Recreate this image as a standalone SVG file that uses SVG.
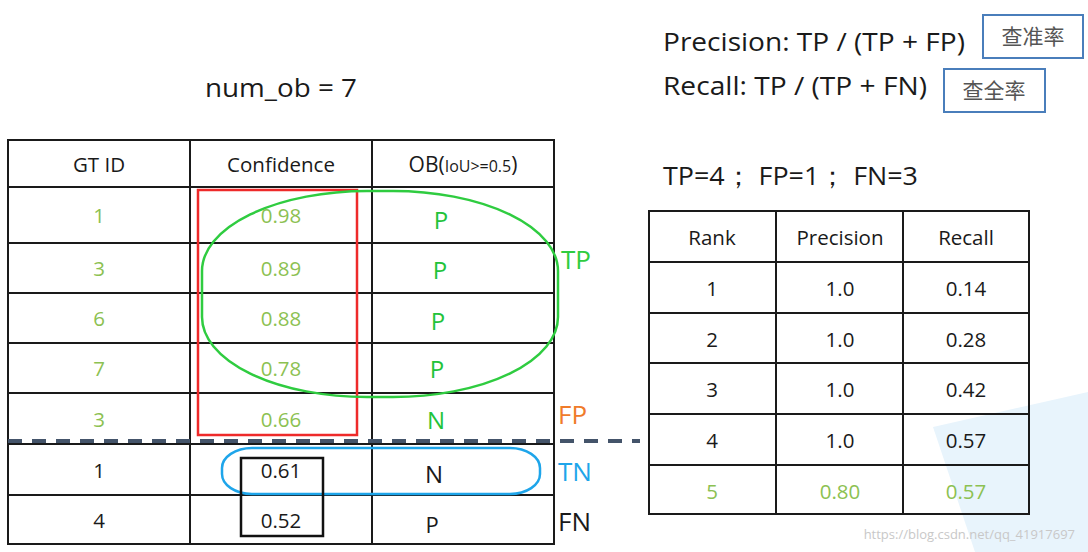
<svg xmlns="http://www.w3.org/2000/svg" width="1088" height="552" viewBox="0 0 1088 552">
<style>
text{font-family:"Open Sans","Liberation Sans",sans-serif;fill:#1a1a1a}
.grid{fill:none;stroke:#1a1a1a;stroke-width:2}
.c{text-anchor:middle;font-size:20.5px}
.g{fill:#8cc152}
.p{fill:#22c33a;font-size:24px;text-anchor:middle}
.big{font-size:26px}
.cj{font-family:"Noto Sans CJK SC",sans-serif;font-size:21px;fill:#555;text-anchor:middle}
.box{fill:#fff;stroke:#4a7ebb;stroke-width:2}
</style>
<rect width="1088" height="552" fill="#fff"/>
<polygon points="933,427 1088,392 1088,552 975,552" fill="#e8f4fc"/>
<text x="205" y="97" class="big" textLength="152" lengthAdjust="spacingAndGlyphs">num_ob = 7</text>
<text x="663" y="51" class="big" textLength="302" lengthAdjust="spacingAndGlyphs">Precision: TP / (TP + FP)</text>
<text x="663" y="95" class="big" textLength="264" lengthAdjust="spacingAndGlyphs">Recall: TP / (TP + FN)</text>
<text x="663" y="185" class="big" textLength="255" lengthAdjust="spacingAndGlyphs">TP=4； FP=1； FN=3</text>
<g id="box-precision"><rect x="983" y="15" width="100" height="43" class="box"/><text x="1033" y="44" class="cj">查准率</text></g>
<g id="box-recall"><rect x="944" y="69" width="101" height="43" class="box"/><text x="994" y="98" class="cj">查全率</text></g>
<g id="left-table">
<rect x="8" y="140" width="546" height="404" class="grid"/>
<path class="grid" d="M190 140V544M372 140V544M8 187H554M8 243H554M8 293H554M8 343H554M8 393H554M8 444H554M8 495H554"/>
<text x="99" y="172" class="c">GT ID</text>
<text x="281" y="172" class="c">Confidence</text>
<text x="463" y="172" class="c" style="font-size:21px">OB(<tspan style="font-size:16px">IoU&gt;=0.5</tspan>)</text>
<text x="99" y="223" class="c g">1</text><text x="281" y="223" class="c g">0.98</text><text x="441" y="229" class="p">P</text>
<text x="99" y="276" class="c g">3</text><text x="281" y="276" class="c g">0.89</text><text x="440" y="279" class="p">P</text>
<text x="99" y="326" class="c g">6</text><text x="281" y="326" class="c g">0.88</text><text x="438" y="330" class="p">P</text>
<text x="99" y="376" class="c g">7</text><text x="281" y="376" class="c g">0.78</text><text x="437" y="378" class="p">P</text>
<text x="99" y="427" class="c g">3</text><text x="281" y="427" class="c g">0.66</text><text x="436" y="429" class="p">N</text>
<text x="99" y="478" class="c">1</text><text x="281" y="478" class="c">0.61</text><text x="434" y="483" class="p" style="fill:#1a1a1a">N</text>
<text x="99" y="528" class="c">4</text><text x="281" y="528" class="c">0.52</text><text x="432" y="533" class="p" style="fill:#1a1a1a;font-size:22px">P</text>
</g>
<g id="right-table">
<rect x="649" y="211" width="380" height="303" class="grid"/>
<path class="grid" d="M776 211V514M903 211V514M649 262H1029M649 313H1029M649 363H1029M649 414H1029M649 465H1029"/>
<text x="712" y="245" class="c">Rank</text><text x="840" y="245" class="c">Precision</text><text x="966" y="245" class="c">Recall</text>
<text x="712" y="296" class="c">1</text><text x="840" y="296" class="c">1.0</text><text x="966" y="296" class="c">0.14</text>
<text x="712" y="347" class="c">2</text><text x="840" y="347" class="c">1.0</text><text x="966" y="347" class="c">0.28</text>
<text x="712" y="397" class="c">3</text><text x="840" y="397" class="c">1.0</text><text x="966" y="397" class="c">0.42</text>
<text x="712" y="448" class="c">4</text><text x="840" y="448" class="c">1.0</text><text x="966" y="448" class="c">0.57</text>
<text x="712" y="499" class="c g">5</text><text x="840" y="499" class="c g">0.80</text><text x="966" y="499" class="c g">0.57</text>
</g>
<g id="highlights">
<rect x="198" y="190" width="159" height="245" fill="none" stroke="#ee2a2a" stroke-width="2.5"/>
<rect x="202" y="191" width="356" height="206" rx="165" ry="80" fill="none" stroke="#2fcc40" stroke-width="2.5"/>
<rect x="222" y="448" width="318" height="46" rx="30" ry="20" fill="none" stroke="#1ea5ea" stroke-width="2.5"/>
<rect x="241" y="458" width="82" height="78" fill="none" stroke="#111" stroke-width="2.5"/>
</g>
<g id="connectors">
<line x1="8" y1="441" x2="640" y2="441" stroke="#44546a" stroke-width="4" stroke-dasharray="14 10"/>
</g>
<text x="561" y="269" class="big" style="fill:#2fcc40">TP</text>
<text x="558" y="424" class="big" style="fill:#f07b2a">FP</text>
<text x="558" y="481" class="big" style="fill:#1ea5ea">TN</text>
<text x="558" y="531" class="big">FN</text>
<text x="1075" y="539" style="font-size:13px;fill:#c8c8c8;text-anchor:end">https://blog.csdn.net/qq_41917697</text>
</svg>
